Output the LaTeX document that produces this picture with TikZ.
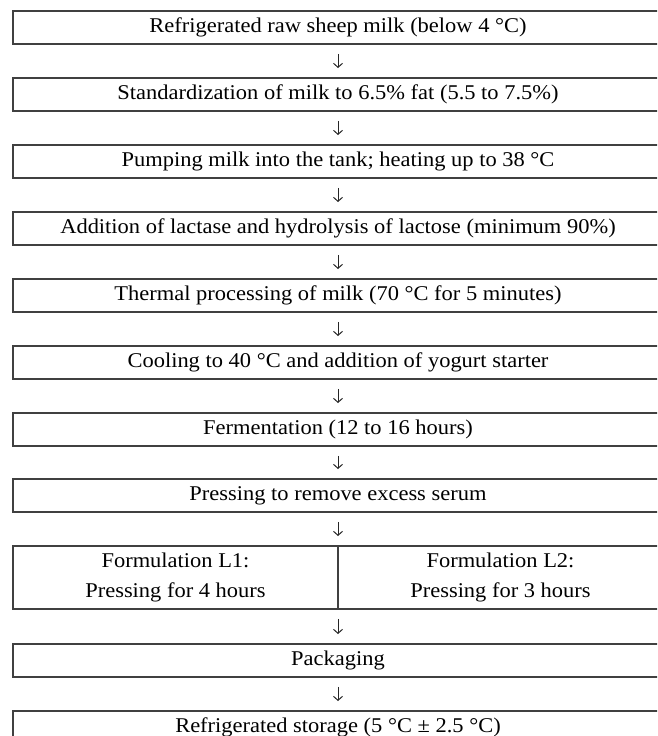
\documentclass[tikz,border=0pt]{standalone}
\usepackage{fontspec}
\setmainfont{Liberation Serif}[FakeStretch=1.07]
\usetikzlibrary{arrows.meta}
\begin{document}
\begin{tikzpicture}[x=1pt,y=-1pt,
  stepbox/.style={draw=black!75, line width=1.8pt, minimum width=650pt, minimum height=33pt,
    inner sep=0pt, font=\fontsize{21}{26}\selectfont, anchor=north},
  twobox/.style={draw=black!75, line width=1.8pt, minimum width=650pt, minimum height=63pt,
    inner sep=0pt, anchor=north},
  label/.style={inner sep=0pt, font=\fontsize{21}{26}\selectfont, anchor=base},
  flow/.style={draw=black!85, line width=1pt, -{Straight Barb[length=4pt,width=9pt]},
    shorten <=9pt, shorten >=9pt}]
\useasboundingbox (0,0) rectangle (657,736);
\clip (0,0) rectangle (657,736);
\node[stepbox] (b1) at (338,10) {Refrigerated raw sheep milk (below 4 °C)};
\node[stepbox] (b2) at (338,77) {Standardization of milk to 6.5\% fat (5.5 to 7.5\%)};
\node[stepbox] (b3) at (338,144) {Pumping milk into the tank; heating up to 38 °C};
\node[stepbox] (b4) at (338,211) {Addition of lactase and hydrolysis of lactose (minimum 90\%)};
\node[stepbox] (b5) at (338,278) {Thermal processing of milk (70 °C for 5 minutes)};
\node[stepbox] (b6) at (338,345) {Cooling to 40 °C and addition of yogurt starter};
\node[stepbox] (b7) at (338,412) {Fermentation (12 to 16 hours)};
\node[stepbox] (b8) at (338,478) {Pressing to remove excess serum};
\node[twobox] (b9) at (338,545) {};
\draw[draw=black!75, line width=1.8pt] (b9.north) -- (b9.south);
\node[label] (l1a) at (175.5,567) {Formulation L1:};
\node[label] (l1b) at (175.5,597) {Pressing for 4 hours};
\node[label] (l2a) at (500.5,567) {Formulation L2:};
\node[label] (l2b) at (500.5,597) {Pressing for 3 hours};
\node[stepbox] (b10) at (338,643) {Packaging};
\node[stepbox] (b11) at (338,710) {Refrigerated storage (5 °C ± 2.5 °C)};
\foreach \a/\b in {b1/b2,b2/b3,b3/b4,b4/b5,b5/b6,b6/b7,b7/b8,b8/b9,b9/b10,b10/b11}
  \draw[flow] (\a.south) -- (\b.north);
\end{tikzpicture}
\end{document}
